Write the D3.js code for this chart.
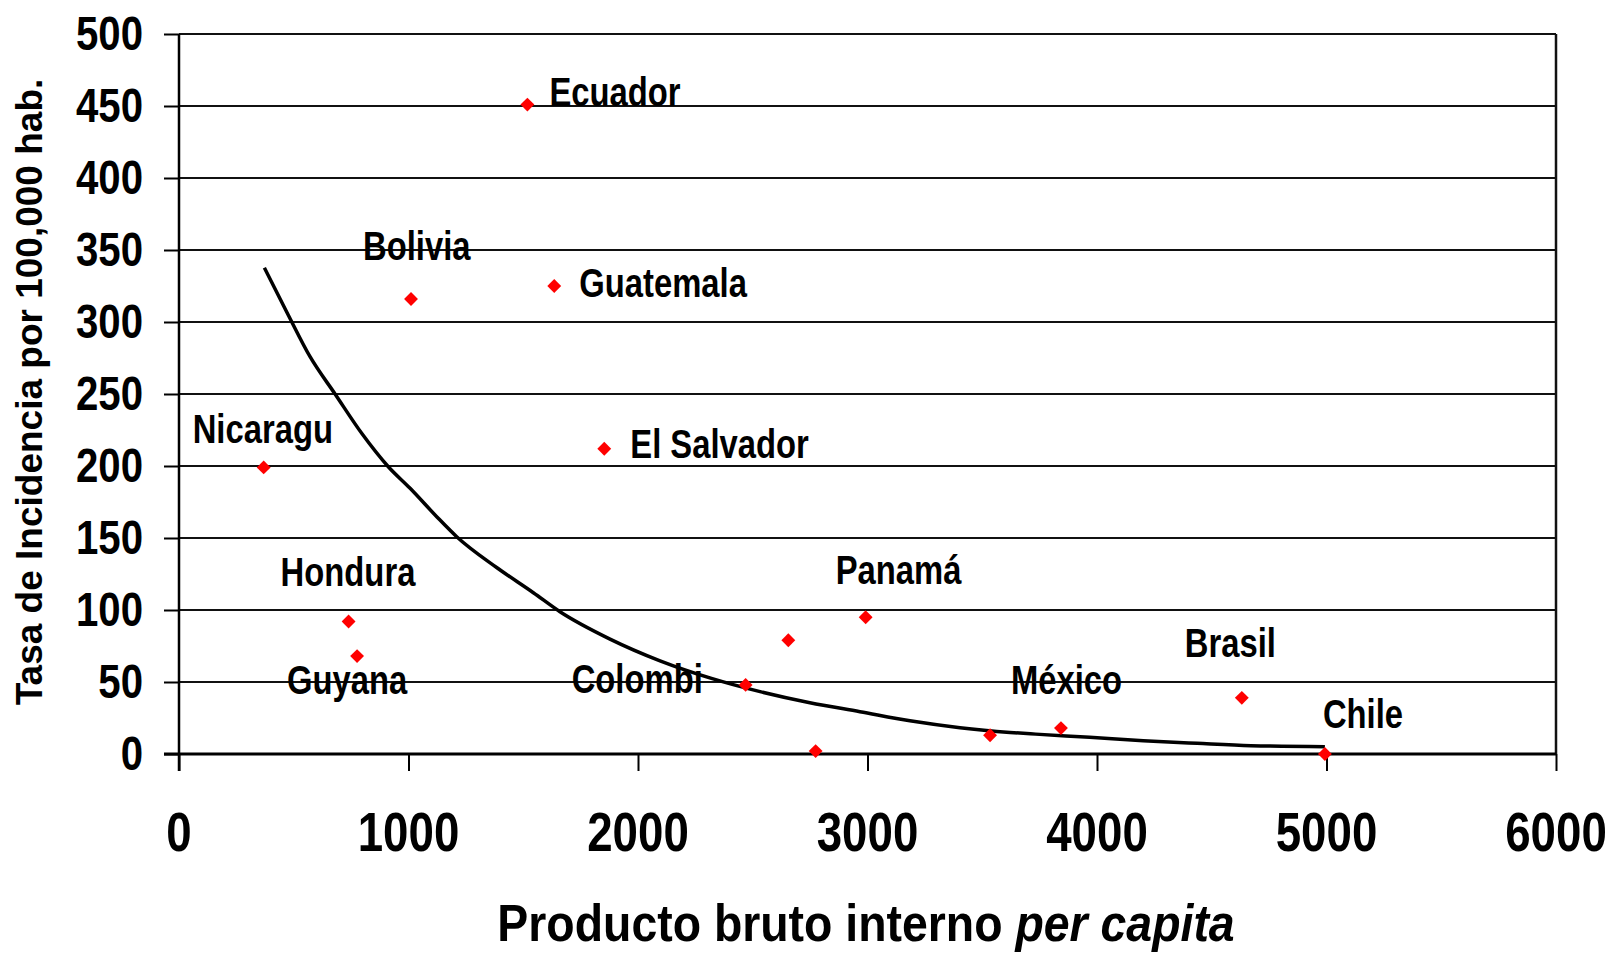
<!DOCTYPE html>
<html>
<head>
<meta charset="utf-8">
<script src="https://cdn.jsdelivr.net/npm/d3@7"></script>
<style>
  html, body { margin: 0; padding: 0; background: #fff; }
  svg { display: block; }
  text { font-family: "Liberation Sans", Arial, sans-serif; font-weight: bold; fill: #000; }
</style>
</head>
<body>
<svg id="chart" width="1610" height="955"></svg>
<script>
// data
const countries = ['Nicaragu', 'Bolivia', 'Ecuador', 'Guatemala', 'El Salvador', 'Hondura', 'Guyana',
    'Colombi', '', '', 'Panamá', '', 'México', 'Brasil', 'Chile'];
const gdp = [369, 1011, 1518, 1635, 1853, 739, 776, 2469, 2655, 2774, 2992, 3534, 3843, 4631, 4993];
const rate = [199, 316, 451, 325, 212, 92, 68, 48, 79, 2, 95, 13, 18, 39, 0];

// trend line, read point by point
const trendX = [372, 476, 571, 680, 796, 912, 1007, 1123, 1210, 1384, 1544, 1660, 1878, 2096, 2320,
    2532, 2749, 2967, 3185, 3403, 3621, 3733, 3968, 4202, 4436, 4671, 4993];
const trendY = [337.7, 304.9, 275.9, 250, 222.7, 199.5, 184.5, 164.8, 150.9, 129.5, 112, 98.8, 79.8, 64.7, 52.5,
    43.3, 35.6, 29.4, 23.1, 18.3, 15, 13.8, 11.6, 9.2, 7.4, 5.8, 5.1];

const xTicks = [0, 1000, 2000, 3000, 4000, 5000, 6000];
const yTicks = [0, 50, 100, 150, 200, 250, 300, 350, 400, 450, 500];

// label placement (pixels from the marker)
const labelOffsets = [[-71, -24], [-48, -39], [22, 1], [25, 11], [26, 9], [-68, -36], [-70, 38],
    [-174, 8], [0, 0], [0, 0], [-30, -33], [0, 0], [-50, -34], [-57, -41], [-2, -26]];

const svg = d3.select('#chart');

const x = d3.scaleLinear().domain([0, 6000]).range([179, 1556]);
const y = d3.scaleLinear().domain([0, 500]).range([754, 34]);

const squish = 0.82;

// gridlines
svg.append('g')
    .selectAll('line')
    .data(yTicks.filter(d => d > 0))
    .join('line')
    .attr('x1', x(0))
    .attr('x2', x(6000))
    .attr('y1', d => y(d))
    .attr('y2', d => y(d))
    .attr('stroke', '#111')
    .attr('stroke-width', 2);

// right border
svg.append('line')
    .attr('x1', x(6000)).attr('x2', x(6000))
    .attr('y1', y(500)).attr('y2', y(0))
    .attr('stroke', '#111')
    .attr('stroke-width', 2.5);

// y axis
const yAxis = svg.append('g')
    .attr('transform', `translate(${x(0)},0)`)
    .call(d3.axisLeft(y).tickValues(yTicks).tickSize(15).tickFormat(''));
yAxis.select('.domain').remove();
yAxis.selectAll('.tick line').attr('stroke', '#000').attr('stroke-width', 2);
yAxis.append('line')
    .attr('y1', y(500)).attr('y2', y(0) + 17)
    .attr('stroke', '#000').attr('stroke-width', 2.5);

// x axis
const xAxis = svg.append('g')
    .attr('transform', `translate(0,${y(0)})`)
    .call(d3.axisBottom(x).tickValues(xTicks).tickSize(17).tickFormat(''));
xAxis.select('.domain').remove();
xAxis.selectAll('.tick line').attr('stroke', '#000').attr('stroke-width', 2);
xAxis.append('line')
    .attr('x1', x(0) - 15).attr('x2', x(6000))
    .attr('stroke', '#000').attr('stroke-width', 3);

// tick labels
svg.append('g')
    .selectAll('g')
    .data(yTicks)
    .join('g')
    .attr('transform', d => `translate(143,${y(d) + 16}) scale(${squish},1)`)
    .append('text')
    .attr('text-anchor', 'end')
    .style('font-size', '49px')
    .text(d => d);

svg.append('g')
    .selectAll('g')
    .data(xTicks)
    .join('g')
    .attr('transform', d => `translate(${x(d)},851) scale(0.83,1)`)
    .append('text')
    .attr('text-anchor', 'middle')
    .style('font-size', '55px')
    .text(d => d);

// axis titles
const xTitle = svg.append('g')
    .attr('transform', 'translate(866,941) scale(0.91,1)')
    .append('text')
    .attr('text-anchor', 'middle')
    .style('font-size', '51px');
xTitle.append('tspan').text('Producto bruto interno ');
xTitle.append('tspan').style('font-style', 'italic').text('per capita');

svg.append('text')
    .attr('transform', 'translate(42,392) rotate(-90)')
    .attr('text-anchor', 'middle')
    .style('font-size', '37px')
    .text('Tasa de Incidencia por 100,000 hab.');

// trend line
const trend = trendX.map((d, i) => [d, trendY[i]]);
svg.append('path')
    .datum(trend)
    .attr('fill', 'none')
    .attr('stroke', '#000')
    .attr('stroke-width', 3.5)
    .attr('stroke-linejoin', 'round')
    .attr('d', d3.line().x(d => x(d[0])).y(d => y(d[1])).curve(d3.curveMonotoneX));

// markers
const points = gdp.map((d, i) => ({gdp: d, rate: rate[i], name: countries[i], off: labelOffsets[i]}));

svg.append('g')
    .selectAll('path')
    .data(points)
    .join('path')
    .attr('transform', d => `translate(${x(d.gdp)},${y(d.rate)}) rotate(45)`)
    .attr('d', d3.symbol(d3.symbolSquare, 96))
    .attr('fill', '#ff0000');

// point labels
svg.append('g')
    .selectAll('g')
    .data(points.filter(d => d.name))
    .join('g')
    .attr('transform', d => `translate(${x(d.gdp) + d.off[0]},${y(d.rate) + d.off[1]}) scale(${squish},1)`)
    .append('text')
    .style('font-size', '40px')
    .text(d => d.name);
</script>
</body>
</html>
